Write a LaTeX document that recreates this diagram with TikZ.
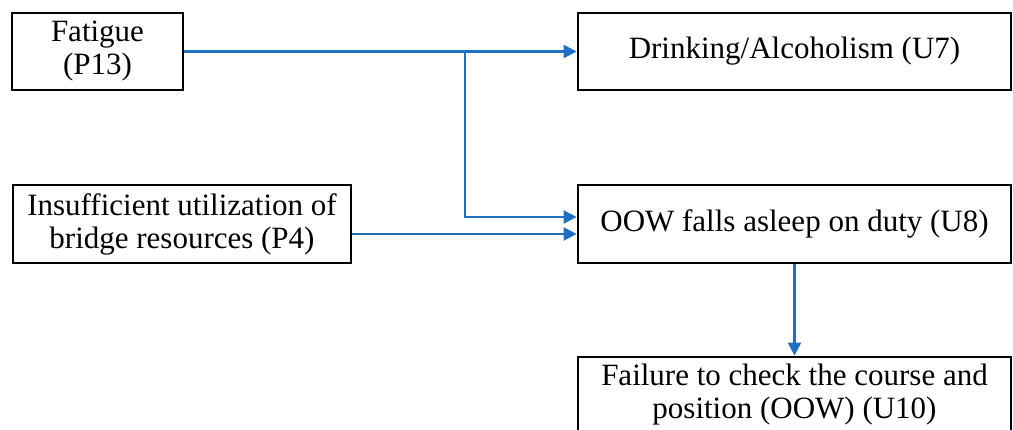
\documentclass[tikz,border=0pt]{standalone}
\usepackage{fontspec}
\setmainfont{Liberation Serif}
\usetikzlibrary{arrows.meta}
\definecolor{arrowblue}{RGB}{31,111,197}
\begin{document}
\begin{tikzpicture}[x=1pt,y=-1pt,
  box/.style={draw=black, line width=2.8pt, inner sep=0pt, align=center,
    font=\fontsize{31}{33}\selectfont},
  conn/.style={draw=arrowblue, line width=2.4pt, -{Triangle[length=13pt,width=13pt]}}]
\useasboundingbox (0,0) rectangle (1013,430);
\node[box, minimum width=171pt, minimum height=77pt] (fat) at (97.5,51.5) {Fatigue\\(P13)};
\node[box, minimum width=433pt, minimum height=77pt] (drk) at (794.5,51.5) {Drinking/Alcoholism (U7)};
\node[box, minimum width=338pt, minimum height=78pt] (ins) at (182,224) {Insufficient utilization of\\bridge resources (P4)};
\node[box, minimum width=433pt, minimum height=78pt] (oow) at (794.5,224) {OOW falls asleep on duty (U8)};
\node[box, minimum width=433pt, minimum height=76pt] (fail) at (794.5,395) {Failure to check the course and\\position (OOW) (U10)};
\coordinate (br) at (465,51.5);
\draw[conn] (fat.east) -- (drk.west);
\draw[conn] (br) |- ([yshift=7pt]oow.west);
\draw[conn] ([yshift=-10pt]ins.east) -- ([yshift=-10pt]oow.west);
\draw[conn] (oow.south) -- (fail.north);
\end{tikzpicture}
\end{document}
